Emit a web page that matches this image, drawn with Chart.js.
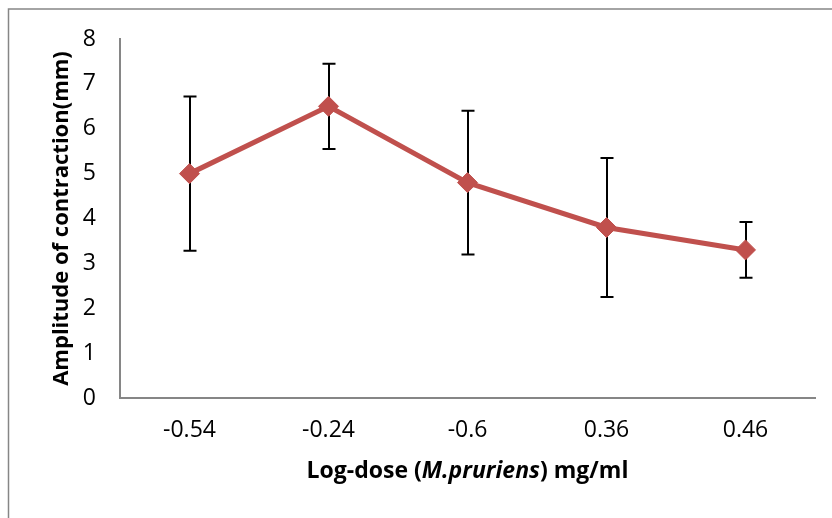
<!DOCTYPE html>
<html>
<head>
<meta charset="utf-8">
<script src="https://cdn.jsdelivr.net/npm/chart.js@4"></script>
<style>
  body { margin: 0; background: #fff; }
  #wrap { width: 832px; height: 518px; }
</style>
</head>
<body>
<div id="wrap"><canvas id="myChart" width="832" height="518"></canvas></div>
<script>
// log-dose categories and mean amplitude (mm) with error (+/-)
var doses = ['-0.54', '-0.24', '-0.6', '0.36', '0.46'];
var amplitude = [5.0, 6.5, 4.8, 3.8, 3.3];
var errors = [1.72, 0.95, 1.6, 1.55, 0.62];
var yTicks = [0, 1, 2, 3, 4, 5, 6, 7, 8];

var RED = '#C0504D';
var GREY = '#868686';
var FONT = '"Open Sans", "Liberation Sans", sans-serif';

// outer frame, error bars and axis titles
var extras = {
  id: 'extras',
  beforeDraw: function(chart) {
    var ctx = chart.ctx;
    ctx.save();
    ctx.strokeStyle = GREY;
    ctx.lineWidth = 1.5;
    ctx.beginPath();
    ctx.moveTo(832, 9);
    ctx.lineTo(8.5, 9);
    ctx.lineTo(8.5, 518);
    ctx.stroke();
    ctx.restore();
  },
  beforeDatasetsDraw: function(chart) {
    var ctx = chart.ctx;
    var xs = chart.scales.x, ys = chart.scales.y;
    ctx.save();
    ctx.strokeStyle = '#000';
    ctx.lineWidth = 2;
    for (var i = 0; i < amplitude.length; i++) {
      var x = Math.round(xs.getPixelForValue(i));
      var top = ys.getPixelForValue(amplitude[i] + errors[i]);
      var bot = ys.getPixelForValue(amplitude[i] - errors[i]);
      ctx.beginPath();
      ctx.moveTo(x, top);
      ctx.lineTo(x, bot);
      ctx.moveTo(x - 6.5, top);
      ctx.lineTo(x + 6.5, top);
      ctx.moveTo(x - 6.5, bot);
      ctx.lineTo(x + 6.5, bot);
      ctx.stroke();
    }
    ctx.restore();
  },
  afterDraw: function(chart) {
    var ctx = chart.ctx;
    var area = chart.chartArea;
    ctx.save();
    ctx.fillStyle = '#000';
    ctx.textBaseline = 'middle';

    // x title with italic species name
    var parts = [
      { t: 'Log-dose (', f: 'bold 23px ' + FONT },
      { t: 'M.pruriens', f: 'italic bold 23px ' + FONT },
      { t: ') mg/ml', f: 'bold 23px ' + FONT }
    ];
    var total = 0;
    parts.forEach(function(p) { ctx.font = p.f; p.w = ctx.measureText(p.t).width; total += p.w; });
    var x = (area.left + area.right) / 2 - total / 2;
    parts.forEach(function(p) {
      ctx.font = p.f;
      ctx.textAlign = 'left';
      ctx.fillText(p.t, x, 471);
      x += p.w;
    });

    // y title
    ctx.translate(62, (area.top + area.bottom) / 2);
    ctx.rotate(-Math.PI / 2);
    ctx.textAlign = 'center';
    ctx.font = 'bold 22px ' + FONT;
    ctx.fillText('Amplitude of contraction(mm)', 0, 0);
    ctx.restore();
  }
};

var ctx = document.getElementById('myChart');
var myChart = new Chart(ctx, {
  type: 'line',
  data: {
    labels: doses,
    datasets: [{
      data: amplitude,
      borderColor: RED,
      backgroundColor: RED,
      borderWidth: 5,
      pointStyle: 'rectRot',
      pointRadius: 10,
      pointHoverRadius: 10,
      pointBackgroundColor: RED,
      pointBorderColor: RED,
      pointBorderWidth: 1,
      tension: 0,
      fill: false
    }]
  },
  options: {
    responsive: false,
    animation: false,
    events: [],
    layout: { padding: { left: 0, top: 39, right: 17, bottom: 0 } },
    plugins: {
      legend: { display: false },
      tooltip: { enabled: false }
    },
    scales: {
      x: {
        offset: true,
        grid: { display: false, drawTicks: false },
        border: { display: true, color: GREY, width: 2 },
        ticks: { color: '#000', padding: 19, font: { family: FONT, size: 23 } },
        afterFit: function(scale) { scale.height = 120; }
      },
      y: {
        min: 0,
        max: 8,
        afterBuildTicks: function(scale) {
          scale.ticks = yTicks.map(function(v) { return { value: v }; });
        },
        grid: { display: false, drawTicks: false },
        border: { display: true, color: GREY, width: 2 },
        ticks: { color: '#000', padding: 24, font: { family: FONT, size: 23 } },
        afterFit: function(scale) { scale.width = 120; }
      }
    }
  },
  plugins: [extras]
});
</script>
</body>
</html>
